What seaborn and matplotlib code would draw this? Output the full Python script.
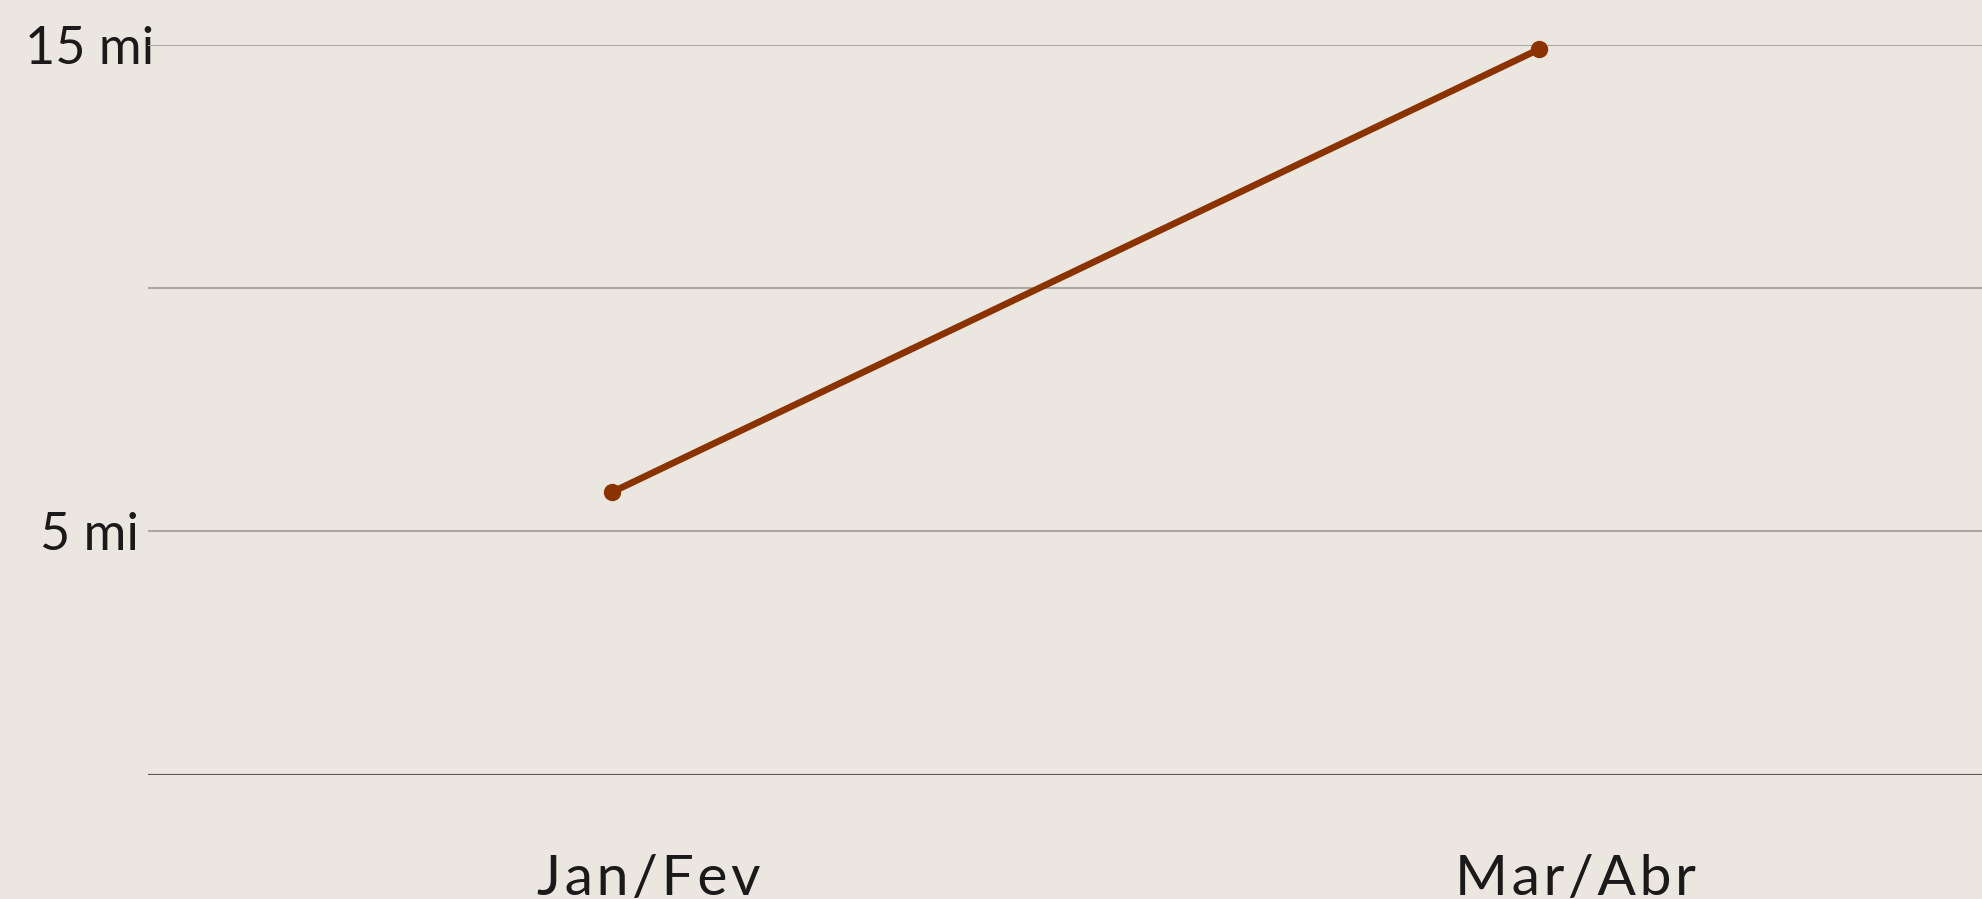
import matplotlib
matplotlib.use("Agg")
import matplotlib.pyplot as plt
import matplotlib.transforms as mtransforms
import pandas as pd
import seaborn as sns

# chart data
periods = ["Jan/Fev", "Mar/Abr"]
values = [5.8, 14.9]
y_ticks = [0, 5, 10, 15]
y_tick_labels = ["", "5 mi", "", "15 mi"]

BG = "#ebe6e0"
LINE = "#8b3300"
GRID = "#aaa7a3"
BASE = "#5a5a58"

sns.set_theme(style="white")
plt.rcParams["font.family"] = ["Lato", "DejaVu Sans"]
plt.rcParams["lines.linewidth"] = 4.8
plt.rcParams["lines.markersize"] = 12.5

df = pd.DataFrame({"period": periods, "value": values})
df["x"] = range(len(df))

fig = plt.figure(figsize=(19.82, 8.99), dpi=100, facecolor=BG)
ax = fig.add_axes([148 / 1982, 124.3 / 899, 1 - 148 / 1982, (774.7 - 44.5) / 899])
ax.set_facecolor(BG)

# gridlines and baseline
for t in y_ticks[1:]:
    ax.axhline(t, color=GRID, linewidth=1.45, zorder=1)
ax.axhline(0, color=BASE, linewidth=1.6, zorder=1)

sns.lineplot(data=df, x="x", y="value", ax=ax, color=LINE,
             linewidth=4.8, marker="o", markersize=12.5,
             markeredgewidth=0, zorder=3, clip_on=False)
for ln in ax.lines:
    if ln.get_marker() == "o":
        ln.set_linewidth(4.8)
        ln.set_markersize(12.5)
        ln.set_markerfacecolor(LINE)
        ln.set_markeredgewidth(0)

ax.set_xlim(-0.5, 1.478)
ax.set_ylim(0, 15)
ax.set_xlabel("")
ax.set_ylabel("")
for s in ax.spines.values():
    s.set_visible(False)

ax.set_yticks(y_ticks)
ax.set_yticklabels(y_tick_labels)
ax.tick_params(axis="y", length=0, pad=41.8, labelsize=37.5, labelcolor="#1a1a1a")
for lab in ax.get_yticklabels():
    lab.set_horizontalalignment("center")
    lab.set_verticalalignment("center_baseline")

# x labels are letter-spaced and sit a bit right of their points
spaced = ["\u200a".join(p) for p in periods]
ax.set_xticks(df["x"])
ax.set_xticklabels(spaced)
ax.tick_params(axis="x", length=0, pad=57, labelsize=41, labelcolor="#1a1a1a")
offset = mtransforms.ScaledTranslation(37 / 100, 0, fig.dpi_scale_trans)
for lab in ax.get_xticklabels():
    lab.set_transform(lab.get_transform() + offset)

fig.savefig("out.png", dpi=100, facecolor=BG)
